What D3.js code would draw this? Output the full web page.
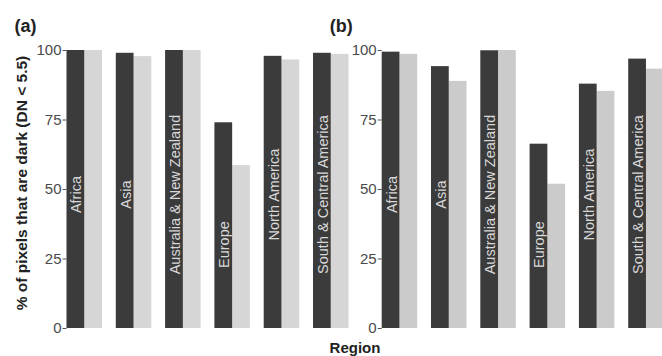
<!DOCTYPE html>
<html>
<head>
<meta charset="utf-8">
<script src="https://cdn.jsdelivr.net/npm/d3@7"></script>
<style>
  html, body { margin: 0; padding: 0; background: #fff; }
  svg { display: block; font-family: "Liberation Sans", Arial, sans-serif; }
</style>
</head>
<body>
<svg id="chart" width="662" height="356"></svg>
<script>
// Regions shown on the x axis
const regions = ["Africa", "Asia", "Australia & New Zealand", "Europe", "North America", "South & Central America"];

// Panel (a): % of dark pixels, two series per region
const panelADark  = [100, 99.0, 100, 74.0, 97.9, 99.0];
const panelALight = [100, 97.8, 100, 58.6, 96.6, 98.6];

// Panel (b)
const panelBDark  = [99.4, 94.2, 99.9, 66.3, 87.9, 96.9];
const panelBLight = [98.6, 88.9, 100, 51.9, 85.3, 93.3];

// Height (in % units) at which each region name is centred inside its bar
const labelAt = [48, 48, 48, 30, 48, 48];

const yTicks = [0, 25, 50, 75, 100];

const svg = d3.select("#chart");
const y = d3.scaleLinear().domain([0, 100]).range([328, 50]);

function panel(tag, axisX, dark, light, lightColor) {
  const x = d3.scaleBand().domain(regions)
    .range([axisX, axisX + 282])
    .paddingInner(0.28).paddingOuter(0);
  const sub = d3.scaleBand().domain(["dark", "light"]).range([0, x.bandwidth()]);

  const g = svg.append("g");
  const rows = regions.map((r, i) => ({ r, dark: dark[i], light: light[i], lab: labelAt[i] }));

  g.selectAll("rect.light").data(rows).join("rect")
    .attr("x", d => x(d.r) + sub("light"))
    .attr("width", sub.bandwidth())
    .attr("y", d => y(d.light))
    .attr("height", d => y(0) - y(d.light))
    .attr("fill", lightColor);

  g.selectAll("rect.dark").data(rows).join("rect")
    .attr("x", d => x(d.r) + sub("dark"))
    .attr("width", sub.bandwidth())
    .attr("y", d => y(d.dark))
    .attr("height", d => y(0) - y(d.dark))
    .attr("fill", "#3b3b3b");

  g.selectAll("text.lab").data(rows).join("text")
    .attr("transform", d => `translate(${x(d.r) + sub("dark") + sub.bandwidth() / 2 + 6},${y(d.lab)}) rotate(-90)`)
    .attr("text-anchor", "middle")
    .attr("font-size", 14.5)
    .attr("fill", "#d8d8d8")
    .text(d => d.r);

  const axis = d3.axisLeft(y).tickValues(yTicks).tickSize(4).tickPadding(1);
  const ag = svg.append("g").attr("transform", `translate(${axisX},0)`).call(axis);
  ag.select(".domain").remove();
  ag.selectAll(".tick line").attr("stroke", "#555");
  ag.selectAll(".tick text")
    .attr("font-size", 15)
    .attr("fill", "#4a4a4a")
    .attr("font-family", "Liberation Sans, Arial, sans-serif");

  svg.append("text")
    .attr("x", axisX - 52)
    .attr("y", 32)
    .attr("font-size", 18)
    .attr("font-weight", "bold")
    .attr("fill", "#222")
    .text(tag);
}

panel("(a)", 66.5, panelADark, panelALight, "#d6d6d6");
panel("(b)", 381.7, panelBDark, panelBLight, "#cbcbcb");

// Axis titles
svg.append("text")
  .attr("transform", "translate(27,183) rotate(-90)")
  .attr("text-anchor", "middle")
  .attr("font-size", 15.5)
  .attr("font-weight", "bold")
  .attr("fill", "#222")
  .text("% of pixels that are dark (DN < 5.5)");

svg.append("text")
  .attr("x", 355)
  .attr("y", 353)
  .attr("text-anchor", "middle")
  .attr("font-size", 15)
  .attr("font-weight", "bold")
  .attr("fill", "#222")
  .text("Region");
</script>
</body>
</html>
